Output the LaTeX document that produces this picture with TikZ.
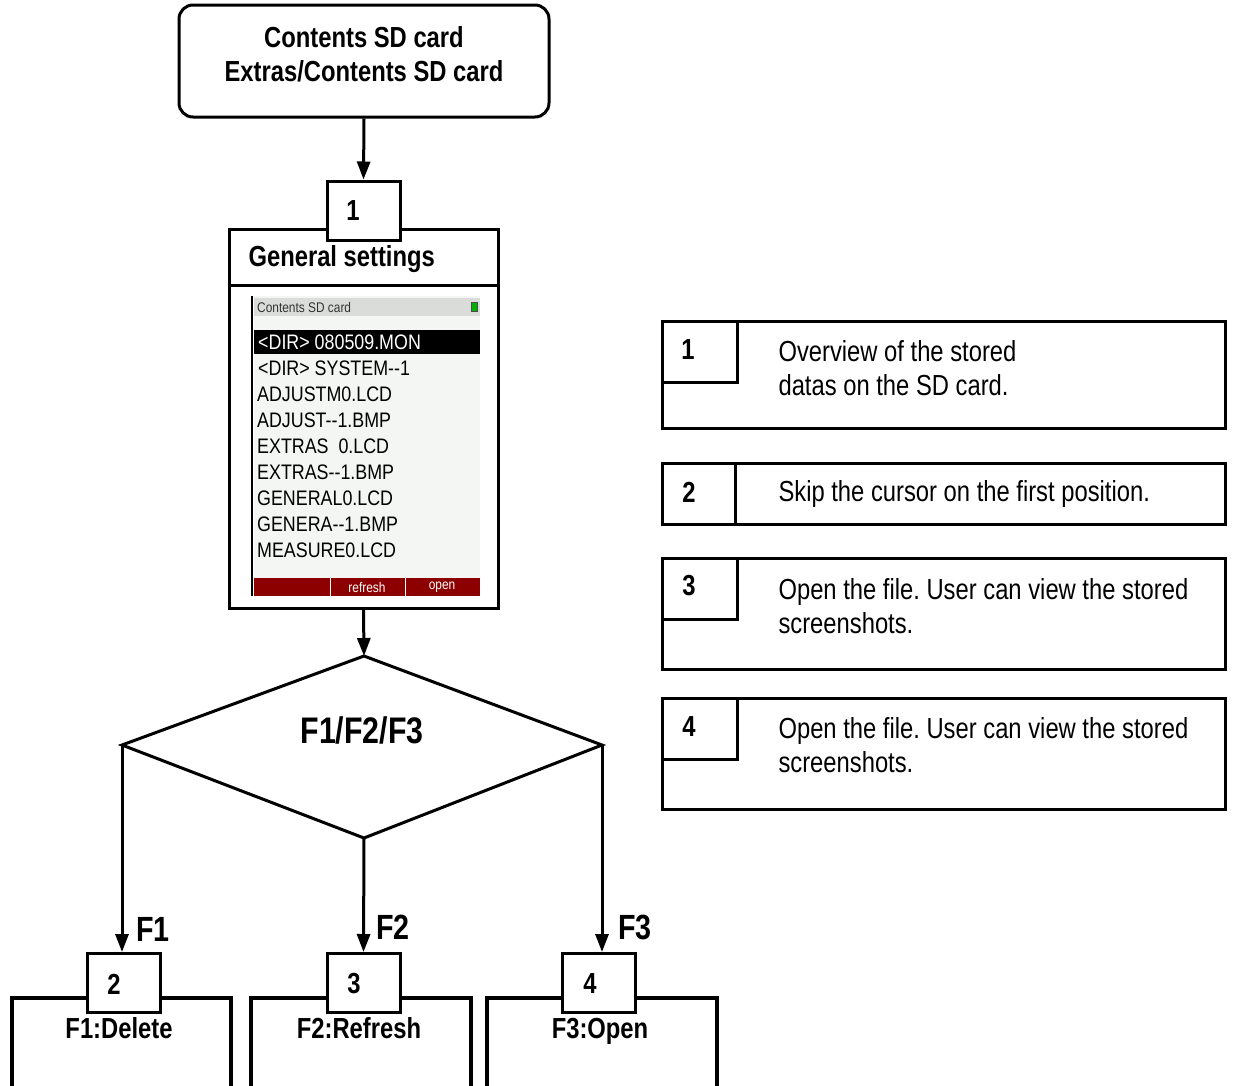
\documentclass[tikz,border=0pt]{standalone}
\usepackage{fontspec}
\setmainfont{Liberation Sans}[FakeStretch=0.82]
\newfontfamily\lcdfont{Liberation Sans}[FakeStretch=0.85]
\usetikzlibrary{arrows.meta}
\definecolor{lcdred}{RGB}{140,0,0}
\definecolor{lcdgray}{RGB}{218,220,218}
\definecolor{lcdbg}{RGB}{244,246,244}
\frenchspacing
\begin{document}
\begin{tikzpicture}[x=1pt,y=-1pt,
  frame/.style={draw, line width=3pt, fill=white, inner sep=0pt},
  numbox/.style={frame, minimum width=73pt, minimum height=59pt},
  arr/.style={line width=3pt, -{Triangle[length=18pt,width=13pt]}},
  big/.style={font=\bfseries\fontsize{29}{34}\selectfont},
  desc/.style={font=\fontsize{29}{34}\selectfont, anchor=west, align=left},
  lcd/.style={font=\lcdfont\fontsize{21}{21}\selectfont, anchor=west, inner sep=0pt},
  lcdtiny/.style={font=\lcdfont\fontsize{14}{14}\selectfont, inner sep=0pt}]
\useasboundingbox (0,0) rectangle (1234,1085);
\clip (0,0) rectangle (1234,1085);

% top box
\node[frame, rounded corners=14pt, minimum width=370pt, minimum height=112pt] (topbox) at (364,61) {};
\node[big, align=center] (toptext) at (364,54) {Contents SD card\\Extras/Contents SD card};

% general settings
\node[frame, minimum width=269pt, minimum height=379pt] (gs) at (363.5,418.5) {};
\draw[line width=3pt] (gs.west |- 0,285) -- (gs.east |- 0,285);
\node[big, anchor=west] (gstitle) at (245,259) {General settings};
\node[numbox] (n1) at (363.5,210.5) {};
\node[big] (n1t) at (353,211) {1};
\draw[arr] (topbox.south) -- (n1.north);

% screen
\fill[lcdbg] (254,296) rectangle (480,596);
\fill[lcdgray] (254,298) rectangle (480,316);
\node[lcdtiny, anchor=west, text=black!80] (scrtitle) at (257,307) {Contents SD card};
\draw[black!70, fill=green!70!black, line width=0.8pt] (471,302) rectangle (477,311);
\fill[black] (254,330) rectangle (480,354);
\node[lcd, text=white] (r0) at (258,342) {<DIR> 080509.MON};
\node[lcd] (r1) at (258,368) {<DIR> SYSTEM-{}-1};
\node[lcd] (r2) at (257,394) {ADJUSTM0.LCD};
\node[lcd] (r3) at (257,420) {ADJUST-{}-1.BMP};
\node[lcd] (r4) at (257,446) {EXTRAS\ \ 0.LCD};
\node[lcd] (r5) at (257,472) {EXTRAS-{}-1.BMP};
\node[lcd] (r6) at (257,498) {GENERAL0.LCD};
\node[lcd] (r7) at (257,524) {GENERA-{}-1.BMP};
\node[lcd] (r8) at (257,550) {MEASURE0.LCD};
\fill[lcdred] (254,578) rectangle (480,596);
\draw[white, line width=1pt] (330,578) -- (330,596) (405,578) -- (405,596);
\node[lcdtiny, text=white] (f2t) at (367,587) {refresh};
\node[lcdtiny, text=white] (f3t) at (442,587) {open};
\draw[black, line width=2pt] (252,296) -- (252,596);

% diamond
\coordinate (dT) at (364,656);
\coordinate (dL) at (122,745);
\coordinate (dR) at (602,745);
\coordinate (dB) at (364,838);
\draw[line width=3pt, line join=miter] (dT) -- (dR) -- (dB) -- (dL) -- cycle;
\node[font=\bfseries\fontsize{37}{37}\selectfont] (dtext) at (362,730) {F1/F2/F3};
\draw[arr] (gs.south) -- (dT);

% bottom boxes
\node[frame, line width=4pt, anchor=north west, minimum width=219pt, minimum height=120pt] (b1) at (10,996) {};
\node[frame, line width=4pt, anchor=north west, minimum width=220pt, minimum height=120pt] (b2) at (249,996) {};
\node[frame, line width=4pt, anchor=north west, minimum width=230pt, minimum height=120pt] (b3) at (485,996) {};
\node[numbox] (n2) at (123.5,983) {};
\node[numbox] (n3) at (363.5,983) {};
\node[numbox] (n4) at (598.5,983) {};
\node[big] (n2t) at (114,984) {2};
\node[big] (n3t) at (354,984) {3};
\node[big] (n4t) at (590,984) {4};
\node[big, anchor=base] (b1t) at (119,1038) {F1:Delete};
\node[big, anchor=base] (b2t) at (359,1038) {F2:Refresh};
\node[big, anchor=base] (b3t) at (600,1038) {F3:Open};

\draw[arr] (dL) -- (dL |- n2.north);
\draw[arr] (dB) -- (n3.north);
\draw[arr] (dR) -- (dR |- n4.north);
\node[font=\bfseries\fontsize{35}{35}\selectfont] (lf1) at (153,929) {F1};
\node[font=\bfseries\fontsize{35}{35}\selectfont] (lf2) at (393,927) {F2};
\node[font=\bfseries\fontsize{35}{35}\selectfont] (lf3) at (635,927) {F3};

% right legend
\node[frame, anchor=north west, minimum width=563pt, minimum height=107pt] (ra) at (661,320) {};
\node[frame, anchor=north west, minimum width=75pt, minimum height=61pt] (ran) at (661,320) {};
\node[big] (rat) at (688,350) {1};
\node[desc] (rad) at (775,368) {Overview of the stored\\datas on the SD card.};

\node[frame, anchor=north west, minimum width=563pt, minimum height=61pt] (rb) at (661,462) {};
\draw[line width=3pt] (735,462) -- (735,523);
\node[big] (rbt) at (689,492) {2};
\node[desc] (rbd) at (775,494) {Skip the cursor on the first position.};

\node[frame, anchor=north west, minimum width=563pt, minimum height=111pt] (rc) at (661,557) {};
\node[frame, anchor=north west, minimum width=75pt, minimum height=61pt] (rcn) at (661,557) {};
\node[big] (rct) at (689,586) {3};
\node[desc] (rcd) at (775,606) {Open the file. User can view the stored\\screenshots.};

\node[frame, anchor=north west, minimum width=563pt, minimum height=111pt] (rd) at (661,697) {};
\node[frame, anchor=north west, minimum width=75pt, minimum height=61pt] (rdn) at (661,697) {};
\node[big] (rdt) at (689,727) {4};
\node[desc] (rdd) at (775,745) {Open the file. User can view the stored\\screenshots.};
\end{tikzpicture}
\end{document}
